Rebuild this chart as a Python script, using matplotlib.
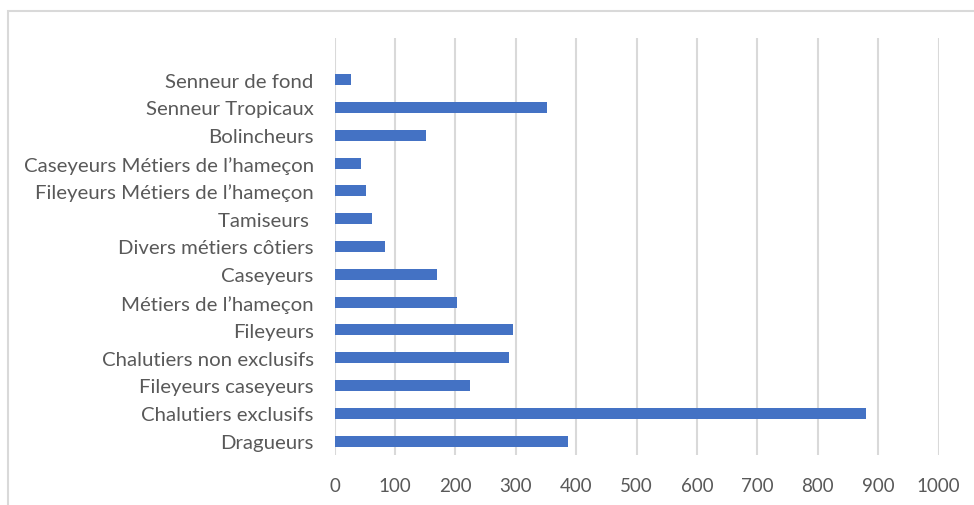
import matplotlib
matplotlib.use("Agg")
import matplotlib.pyplot as plt
from matplotlib.patches import Rectangle

# Fleet segments, listed top to bottom as they appear on the chart
categories = [
    "Senneur de fond",
    "Senneur Tropicaux",
    "Bolincheurs",
    "Caseyeurs Métiers de l’hameçon",
    "Fileyeurs Métiers de l’hameçon",
    "Tamiseurs ",
    "Divers métiers côtiers",
    "Caseyeurs",
    "Métiers de l’hameçon",
    "Fileyeurs",
    "Chalutiers non exclusifs",
    "Fileyeurs caseyeurs",
    "Chalutiers exclusifs",
    "Dragueurs",
]
values = [27, 352, 151, 44, 52, 62, 83, 170, 203, 296, 289, 224, 880, 387]
x_ticks = [0, 100, 200, 300, 400, 500, 600, 700, 800, 900, 1000]

plt.rcParams["font.family"] = ["Lato", "DejaVu Sans"]

fig = plt.figure(figsize=(9.74, 5.06), dpi=100)
fig.patch.set_facecolor("white")

# light chart-area frame
fig.patches.append(Rectangle((8 / 974, -0.1), 1.2, 1 - 12 / 506 + 0.1,
                             transform=fig.transFigure, fill=False,
                             edgecolor="#d9d9d9", linewidth=1.5))

ax = fig.add_axes([334.5 / 974, 1 - 456 / 506, (938.5 - 334.5) / 974, (456 - 39) / 506])

n = len(categories)
ypos = list(range(n - 1, -1, -1))
ax.barh(ypos, values, height=0.4, color="#4472C4", zorder=3)

ax.set_xlim(0, 1000)
ax.set_ylim(-0.5, n + 0.5)
ax.set_xticks(x_ticks)
ax.set_xticklabels([str(t) for t in x_ticks])
ax.set_yticks(ypos)
ax.set_yticklabels(categories)

ax.grid(axis="x", color="#d9d9d9", linewidth=1.5, zorder=0)
ax.grid(axis="y", visible=False)
for s in ax.spines.values():
    s.set_visible(False)

ax.tick_params(axis="both", length=0, labelcolor="#595959")
ax.tick_params(axis="x", pad=16, labelsize=13.5)
ax.tick_params(axis="y", pad=15, labelsize=14.7)

fig.savefig("out.png", dpi=100, facecolor="white")
